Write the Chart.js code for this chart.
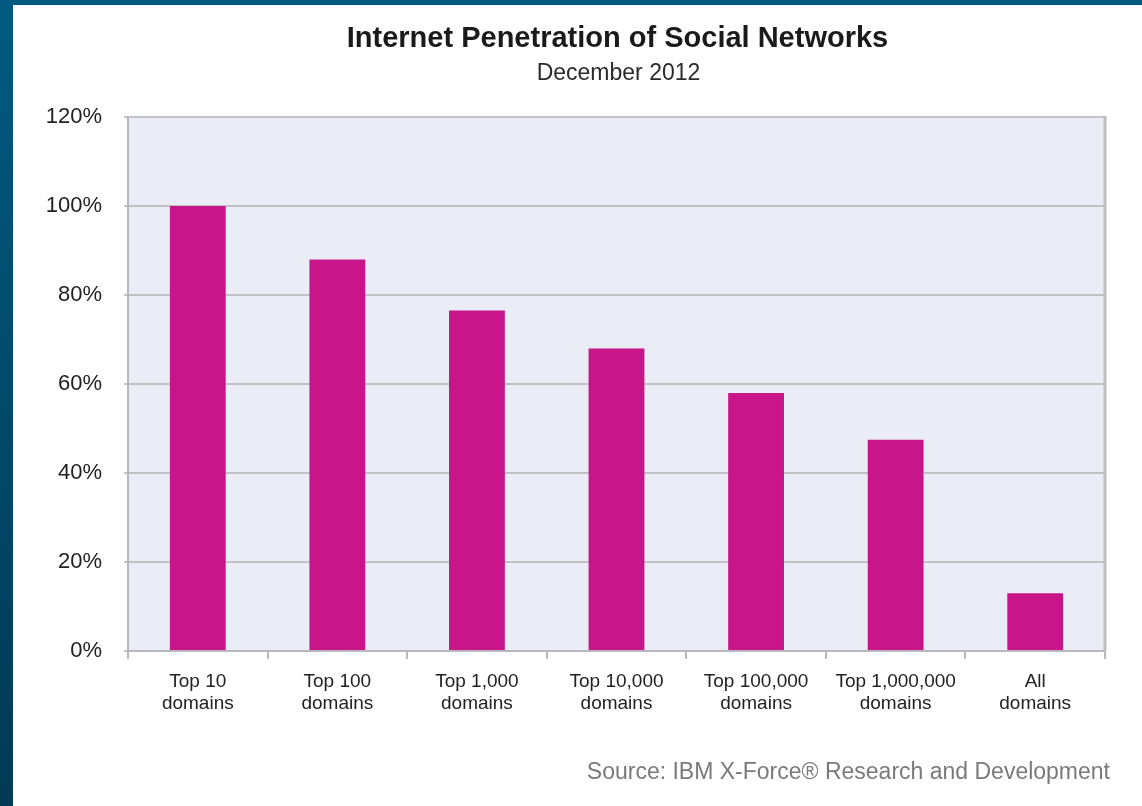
<!DOCTYPE html>
<html>
<head>
<meta charset="utf-8">
<script src="https://cdn.jsdelivr.net/npm/chart.js@4/dist/chart.umd.min.js"></script>
<style>
  html, body { margin: 0; padding: 0; width: 1142px; height: 806px; overflow: hidden;
    background: linear-gradient(to bottom, #005a80 0%, #004a6c 50%, #003a55 100%); }
  #wrap { position: absolute; left: 13px; top: 5px; width: 1129px; height: 801px; background: #ffffff; }
  canvas { display: block; }
</style>
</head>
<body>
<div id="wrap"><canvas id="c" width="1129" height="801"></canvas></div>
<script>
const categories = [["Top 10", "domains"], ["Top 100", "domains"], ["Top 1,000", "domains"], ["Top 10,000", "domains"], ["Top 100,000", "domains"], ["Top 1,000,000", "domains"], ["All", "domains"]];
const penetration = [100, 88, 76.5, 68, 58, 47.5, 13];
const titleText = "Internet Penetration of Social Networks";
const subtitleText = "December 2012";
const sourceText = "Source: IBM X-Force\u00AE Research and Development";

const FONT = "'Liberation Sans', Arial, Helvetica, sans-serif";

const decor = {
  id: 'decor',
  beforeDraw(chart) {
    const { ctx, chartArea: a } = chart;
    ctx.save();
    ctx.fillStyle = '#eaecf6';
    ctx.fillRect(a.left, a.top, a.right - a.left, a.bottom - a.top);
    ctx.restore();
  },
  afterDatasetsDraw(chart) {
    const { ctx, chartArea: a } = chart;
    ctx.save();
    ctx.strokeStyle = '#c4c4c8';
    ctx.lineWidth = 2;
    ctx.beginPath();
    ctx.moveTo(a.left, a.top); ctx.lineTo(a.right, a.top);
    ctx.stroke();
    ctx.strokeStyle = '#bdbdc0';
    ctx.lineWidth = 3;
    ctx.beginPath();
    ctx.moveTo(a.right, a.top - 1); ctx.lineTo(a.right, a.bottom);
    ctx.stroke();
    ctx.restore();
  },
  afterDraw(chart) {
    const { ctx, chartArea: a } = chart;
    const cx = (a.left + a.right) / 2;
    ctx.save();
    ctx.textAlign = 'center';
    ctx.textBaseline = 'middle';
    ctx.fillStyle = '#1a1a1a';
    ctx.font = "bold 29px " + FONT;
    ctx.fillText(titleText, cx + 1, 34);
    ctx.font = "23px " + FONT;
    ctx.fillStyle = '#2a2a2a';
    ctx.fillText(subtitleText, cx + 2, 69);
    ctx.textAlign = 'right';
    ctx.font = "23px " + FONT;
    ctx.fillStyle = '#7a7a7a';
    ctx.fillText(sourceText, 1097, 768);
    ctx.restore();
  }
};

new Chart(document.getElementById('c'), {
  type: 'bar',
  data: {
    labels: categories,
    datasets: [{
      data: penetration,
      backgroundColor: '#c8168a',
      borderWidth: 0,
      categoryPercentage: 1.0,
      barPercentage: 0.4
    }]
  },
  options: {
    responsive: false,
    animation: false,
    devicePixelRatio: 1,
    layout: { padding: { top: 112, right: 37, bottom: 0, left: 0 } },
    plugins: { legend: { display: false }, title: { display: false }, tooltip: { enabled: false } },
    scales: {
      x: {
        offset: true,
        grid: { offset: true, drawOnChartArea: false, drawTicks: true, tickLength: 8, color: '#b8b8bc', lineWidth: 2 },
        border: { display: true, color: '#b8b8bc', width: 2 },
        ticks: { color: '#222222', font: { family: FONT, size: 19 }, padding: 11, maxRotation: 0, autoSkip: false },
        afterFit(s) { s.height = 155; }
      },
      y: {
        min: 0, max: 120,
        grid: { color: '#c2c2c6', lineWidth: 2, drawTicks: true, tickLength: 4 },
        border: { display: true, color: '#b8b8bc', width: 2 },
        ticks: { stepSize: 20, color: '#222222', font: { family: FONT, size: 22 }, padding: 22,
          callback: v => v + '%' },
        afterFit(s) { s.width = 115; }
      }
    }
  },
  plugins: [decor]
});
</script>
</body>
</html>
